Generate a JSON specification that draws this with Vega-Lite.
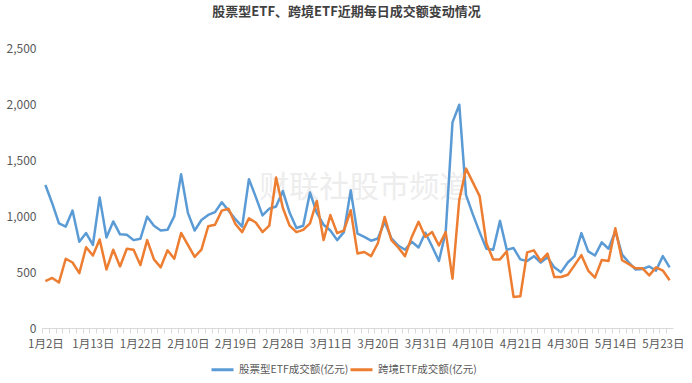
{
  "$schema": "https://vega.github.io/schema/vega-lite/v6.json",
  "width": 631,
  "height": 291,
  "autosize": {"type": "none"},
  "padding": {"left": 42, "top": 37, "right": 19, "bottom": 55},
  "background": "white",
  "config": {"font": "Noto Sans CJK SC", "view": {"stroke": null}},
  "title": {"text": "股票型ETF、跨境ETF近期每日成交额变动情况", "fontSize": 13, "fontWeight": "bold", "color": "#404040", "anchor": "middle", "frame": "group", "dx": -11, "offset": 18},
  "data": {"values": [
    {"d": "1月2日", "股票型ETF成交额(亿元)": 1278, "跨境ETF成交额(亿元)": 419},
    {"d": "1月3日", "股票型ETF成交额(亿元)": 1115, "跨境ETF成交额(亿元)": 447},
    {"d": "1月6日", "股票型ETF成交额(亿元)": 934, "跨境ETF成交额(亿元)": 407},
    {"d": "1月7日", "股票型ETF成交额(亿元)": 906, "跨境ETF成交额(亿元)": 619},
    {"d": "1月8日", "股票型ETF成交额(亿元)": 1049, "跨境ETF成交额(亿元)": 585},
    {"d": "1月9日", "股票型ETF成交额(亿元)": 771, "跨境ETF成交额(亿元)": 490},
    {"d": "1月10日", "股票型ETF成交额(亿元)": 848, "跨境ETF成交额(亿元)": 722},
    {"d": "1月13日", "股票型ETF成交额(亿元)": 742, "跨境ETF成交额(亿元)": 648},
    {"d": "1月14日", "股票型ETF成交额(亿元)": 1167, "跨境ETF成交额(亿元)": 791},
    {"d": "1月15日", "股票型ETF成交额(亿元)": 808, "跨境ETF成交额(亿元)": 522},
    {"d": "1月16日", "股票型ETF成交额(亿元)": 952, "跨境ETF成交额(亿元)": 699},
    {"d": "1月17日", "股票型ETF成交额(亿元)": 837, "跨境ETF成交额(亿元)": 550},
    {"d": "1月20日", "股票型ETF成交额(亿元)": 834, "跨境ETF成交额(亿元)": 708},
    {"d": "1月21日", "股票型ETF成交额(亿元)": 785, "跨境ETF成交额(亿元)": 699},
    {"d": "1月22日", "股票型ETF成交额(亿元)": 797, "跨境ETF成交额(亿元)": 562},
    {"d": "1月23日", "股票型ETF成交额(亿元)": 995, "跨境ETF成交额(亿元)": 785},
    {"d": "1月24日", "股票型ETF成交额(亿元)": 914, "跨境ETF成交额(亿元)": 613},
    {"d": "1月27日", "股票型ETF成交额(亿元)": 871, "跨境ETF成交额(亿元)": 542},
    {"d": "2月5日", "股票型ETF成交额(亿元)": 877, "跨境ETF成交额(亿元)": 694},
    {"d": "2月6日", "股票型ETF成交额(亿元)": 1000, "跨境ETF成交额(亿元)": 619},
    {"d": "2月7日", "股票型ETF成交额(亿元)": 1373, "跨境ETF成交额(亿元)": 849},
    {"d": "2月10日", "股票型ETF成交额(亿元)": 1029, "跨境ETF成交额(亿元)": 742},
    {"d": "2月11日", "股票型ETF成交额(亿元)": 871, "跨境ETF成交额(亿元)": 636},
    {"d": "2月12日", "股票型ETF成交额(亿元)": 965, "跨境ETF成交额(亿元)": 700},
    {"d": "2月13日", "股票型ETF成交额(亿元)": 1010, "跨境ETF成交额(亿元)": 909},
    {"d": "2月14日", "股票型ETF成交额(亿元)": 1035, "跨境ETF成交额(亿元)": 923},
    {"d": "2月17日", "股票型ETF成交额(亿元)": 1124, "跨境ETF成交额(亿元)": 1049},
    {"d": "2月18日", "股票型ETF成交额(亿元)": 1049, "跨境ETF成交额(亿元)": 1066},
    {"d": "2月19日", "股票型ETF成交额(亿元)": 972, "跨境ETF成交额(亿元)": 929},
    {"d": "2月20日", "股票型ETF成交额(亿元)": 906, "跨境ETF成交额(亿元)": 857},
    {"d": "2月21日", "股票型ETF成交额(亿元)": 1330, "跨境ETF成交额(亿元)": 980},
    {"d": "2月24日", "股票型ETF成交额(亿元)": 1172, "跨境ETF成交额(亿元)": 943},
    {"d": "2月25日", "股票型ETF成交额(亿元)": 1006, "跨境ETF成交额(亿元)": 857},
    {"d": "2月26日", "股票型ETF成交额(亿元)": 1066, "跨境ETF成交额(亿元)": 914},
    {"d": "2月27日", "股票型ETF成交额(亿元)": 1086, "跨境ETF成交额(亿元)": 1344},
    {"d": "2月28日", "股票型ETF成交额(亿元)": 1224, "跨境ETF成交额(亿元)": 1072},
    {"d": "3月3日", "股票型ETF成交额(亿元)": 1029, "跨境ETF成交额(亿元)": 914},
    {"d": "3月4日", "股票型ETF成交额(亿元)": 894, "跨境ETF成交额(亿元)": 857},
    {"d": "3月5日", "股票型ETF成交额(亿元)": 914, "跨境ETF成交额(亿元)": 877},
    {"d": "3月6日", "股票型ETF成交额(亿元)": 1210, "跨境ETF成交额(亿元)": 934},
    {"d": "3月7日", "股票型ETF成交额(亿元)": 1029, "跨境ETF成交额(亿元)": 1135},
    {"d": "3月10日", "股票型ETF成交额(亿元)": 923, "跨境ETF成交额(亿元)": 785},
    {"d": "3月11日", "股票型ETF成交额(亿元)": 871, "跨境ETF成交额(亿元)": 1009},
    {"d": "3月12日", "股票型ETF成交额(亿元)": 785, "跨境ETF成交额(亿元)": 848},
    {"d": "3月13日", "股票型ETF成交额(亿元)": 857, "跨境ETF成交额(亿元)": 871},
    {"d": "3月14日", "股票型ETF成交额(亿元)": 1230, "跨境ETF成交额(亿元)": 1052},
    {"d": "3月17日", "股票型ETF成交额(亿元)": 843, "跨境ETF成交额(亿元)": 665},
    {"d": "3月18日", "股票型ETF成交额(亿元)": 814, "跨境ETF成交额(亿元)": 679},
    {"d": "3月19日", "股票型ETF成交额(亿元)": 780, "跨境ETF成交额(亿元)": 642},
    {"d": "3月20日", "股票型ETF成交额(亿元)": 800, "跨境ETF成交额(亿元)": 757},
    {"d": "3月21日", "股票型ETF成交额(亿元)": 949, "跨境ETF成交额(亿元)": 992},
    {"d": "3月24日", "股票型ETF成交额(亿元)": 800, "跨境ETF成交额(亿元)": 785},
    {"d": "3月25日", "股票型ETF成交额(亿元)": 737, "跨境ETF成交额(亿元)": 719},
    {"d": "3月26日", "股票型ETF成交额(亿元)": 699, "跨境ETF成交额(亿元)": 642},
    {"d": "3月27日", "股票型ETF成交额(亿元)": 771, "跨境ETF成交额(亿元)": 814},
    {"d": "3月28日", "股票型ETF成交额(亿元)": 719, "跨境ETF成交额(亿元)": 949},
    {"d": "3月31日", "股票型ETF成交额(亿元)": 851, "跨境ETF成交额(亿元)": 814},
    {"d": "4月1日", "股票型ETF成交额(亿元)": 728, "跨境ETF成交额(亿元)": 857},
    {"d": "4月2日", "股票型ETF成交额(亿元)": 599, "跨境ETF成交额(亿元)": 737},
    {"d": "4月3日", "股票型ETF成交额(亿元)": 857, "跨境ETF成交额(亿元)": 857},
    {"d": "4月7日", "股票型ETF成交额(亿元)": 1837, "跨境ETF成交额(亿元)": 441},
    {"d": "4月8日", "股票型ETF成交额(亿元)": 1995, "跨境ETF成交额(亿元)": 1144},
    {"d": "4月9日", "股票型ETF成交额(亿元)": 1187, "跨境ETF成交额(亿元)": 1424},
    {"d": "4月10日", "股票型ETF成交额(亿元)": 1015, "跨境ETF成交额(亿元)": 1301},
    {"d": "4月11日", "股票型ETF成交额(亿元)": 857, "跨境ETF成交额(亿元)": 1178},
    {"d": "4月14日", "股票型ETF成交额(亿元)": 708, "跨境ETF成交额(亿元)": 757},
    {"d": "4月15日", "股票型ETF成交额(亿元)": 699, "跨境ETF成交额(亿元)": 613},
    {"d": "4月16日", "股票型ETF成交额(亿元)": 957, "跨境ETF成交额(亿元)": 613},
    {"d": "4月17日", "股票型ETF成交额(亿元)": 699, "跨境ETF成交额(亿元)": 685},
    {"d": "4月18日", "股票型ETF成交额(亿元)": 714, "跨境ETF成交额(亿元)": 278},
    {"d": "4月21日", "股票型ETF成交额(亿元)": 613, "跨境ETF成交额(亿元)": 284},
    {"d": "4月22日", "股票型ETF成交额(亿元)": 599, "跨境ETF成交额(亿元)": 676},
    {"d": "4月23日", "股票型ETF成交额(亿元)": 642, "跨境ETF成交额(亿元)": 694},
    {"d": "4月24日", "股票型ETF成交额(亿元)": 585, "跨境ETF成交额(亿元)": 599},
    {"d": "4月25日", "股票型ETF成交额(亿元)": 633, "跨境ETF成交额(亿元)": 665},
    {"d": "4月28日", "股票型ETF成交额(亿元)": 542, "跨境ETF成交额(亿元)": 456},
    {"d": "4月29日", "股票型ETF成交额(亿元)": 499, "跨境ETF成交额(亿元)": 456},
    {"d": "4月30日", "股票型ETF成交额(亿元)": 585, "跨境ETF成交额(亿元)": 476},
    {"d": "5月6日", "股票型ETF成交额(亿元)": 642, "跨境ETF成交额(亿元)": 562},
    {"d": "5月7日", "股票型ETF成交额(亿元)": 848, "跨境ETF成交额(亿元)": 651},
    {"d": "5月8日", "股票型ETF成交额(亿元)": 685, "跨境ETF成交额(亿元)": 513},
    {"d": "5月9日", "股票型ETF成交额(亿元)": 648, "跨境ETF成交额(亿元)": 450},
    {"d": "5月12日", "股票型ETF成交额(亿元)": 765, "跨境ETF成交额(亿元)": 608},
    {"d": "5月13日", "股票型ETF成交额(亿元)": 708, "跨境ETF成交额(亿元)": 599},
    {"d": "5月14日", "股票型ETF成交额(亿元)": 866, "跨境ETF成交额(亿元)": 891},
    {"d": "5月15日", "股票型ETF成交额(亿元)": 656, "跨境ETF成交额(亿元)": 605},
    {"d": "5月16日", "股票型ETF成交额(亿元)": 585, "跨境ETF成交额(亿元)": 570},
    {"d": "5月19日", "股票型ETF成交额(亿元)": 522, "跨境ETF成交额(亿元)": 533},
    {"d": "5月20日", "股票型ETF成交额(亿元)": 527, "跨境ETF成交额(亿元)": 533},
    {"d": "5月21日", "股票型ETF成交额(亿元)": 550, "跨境ETF成交额(亿元)": 470},
    {"d": "5月22日", "股票型ETF成交额(亿元)": 513, "跨境ETF成交额(亿元)": 542},
    {"d": "5月23日", "股票型ETF成交额(亿元)": 642, "跨境ETF成交额(亿元)": 513},
    {"d": "5月26日", "股票型ETF成交额(亿元)": 542, "跨境ETF成交额(亿元)": 427}
  ]},
  "layer": [
    {
      "data": {"values": [{"t": "财联社股市频道"}]},
      "mark": {"type": "text", "fontSize": 30, "color": "#ededed", "align": "center", "baseline": "middle"},
      "encoding": {
        "x": {"datum": "3月18日", "type": "ordinal", "bandPosition": 0.5},
        "y": {"datum": 1255, "type": "quantitative"},
        "text": {"field": "t", "type": "nominal"}
      }
    },
    {
      "transform": [{"fold": ["股票型ETF成交额(亿元)", "跨境ETF成交额(亿元)"], "as": ["series", "value"]}],
      "mark": {"type": "line", "strokeWidth": 2.5, "strokeJoin": "round"},
      "encoding": {
        "x": {
          "field": "d", "type": "ordinal", "sort": null, "bandPosition": 0.5,
          "scale": {"type": "band", "paddingInner": 0, "paddingOuter": 0, "domain": ["1月2日","1月3日","1月6日","1月7日","1月8日","1月9日","1月10日","1月13日","1月14日","1月15日","1月16日","1月17日","1月20日","1月21日","1月22日","1月23日","1月24日","1月27日","2月5日","2月6日","2月7日","2月10日","2月11日","2月12日","2月13日","2月14日","2月17日","2月18日","2月19日","2月20日","2月21日","2月24日","2月25日","2月26日","2月27日","2月28日","3月3日","3月4日","3月5日","3月6日","3月7日","3月10日","3月11日","3月12日","3月13日","3月14日","3月17日","3月18日","3月19日","3月20日","3月21日","3月24日","3月25日","3月26日","3月27日","3月28日","3月31日","4月1日","4月2日","4月3日","4月7日","4月8日","4月9日","4月10日","4月11日","4月14日","4月15日","4月16日","4月17日","4月18日","4月21日","4月22日","4月23日","4月24日","4月25日","4月28日","4月29日","4月30日","5月6日","5月7日","5月8日","5月9日","5月12日","5月13日","5月14日","5月15日","5月16日","5月19日","5月20日","5月21日","5月22日","5月23日","5月26日"]},
          "axis": {
            "title": null, "labelAngle": 0, "labelAlign": "center", "bandPosition": 0.5, "tickOffset": -3.39, "labelOffset": 3.39,
            "labelExpr": "indexof(['1月2日','1月13日','1月22日','2月10日','2月19日','2月28日','3月11日','3月20日','3月31日','4月10日','4月21日','4月30日','5月14日','5月23日'], datum.value) >= 0 ? datum.value : ''",
            "labelOverlap": false, "labelFlush": false, "labelBound": false, "labelFontSize": 11.5, "labelColor": "#595959", "labelPadding": 11,
            "domainColor": "#d9d9d9", "tickColor": "#d9d9d9", "tickSize": 5, "grid": false
          }
        },
        "y": {
          "field": "value", "type": "quantitative",
          "scale": {"domain": [0, 2500]},
          "axis": {"title": null, "values": [0, 500, 1000, 1500, 2000, 2500], "format": ",.0f", "domain": false, "ticks": false, "labelFontSize": 12, "labelColor": "#595959", "labelPadding": 6, "gridColor": "#e6e6e6"}
        },
        "color": {
          "field": "series", "type": "nominal",
          "scale": {"domain": ["股票型ETF成交额(亿元)", "跨境ETF成交额(亿元)"], "range": ["#5B9BD5", "#ED7D31"]},
          "legend": {"orient": "none", "legendX": 168, "legendY": 320, "direction": "horizontal", "title": null, "symbolType": "stroke", "symbolStrokeWidth": 3, "symbolSize": 484, "labelFontSize": 10.5, "labelColor": "#595959", "columnPadding": -20, "labelOffset": 4}
        }
      }
    }
  ]
}
